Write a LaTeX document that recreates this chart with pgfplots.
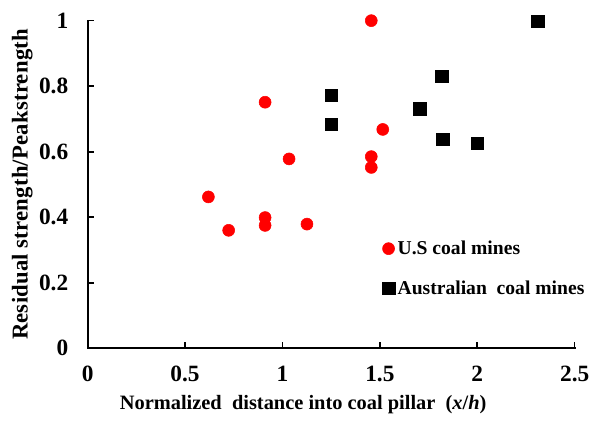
\documentclass[border=0pt]{standalone}
\usepackage{fontspec}
\setmainfont{Liberation Serif}
\usepackage{pgfplots}
\pgfplotsset{compat=1.18}
\begin{document}
\begin{tikzpicture}
\begin{axis}[
  at={(0,0)}, anchor=south west,
  scale only axis,
  width=365.3pt, height=245.7pt,
  xmin=0, xmax=2.5, ymin=0, ymax=1,
  axis lines=left,
  axis line style={line width=1.5pt},
  every outer x axis line/.append style={-},
  every outer y axis line/.append style={-},
  tick align=inside,
  major tick length=5pt,
  major tick style={line width=1.2pt},
  xtick={0,0.5,1,1.5,2,2.5},
  ytick={0,0.2,0.4,0.6,0.8,1},
  xticklabels={0,0.5,1,1.5,2,2.5},
  yticklabels={0,0.2,0.4,0.6,0.8,1},
  ticklabel style={font=\fontsize{17.5}{20}\selectfont\bfseries},
  yticklabel style={xshift=-11pt},
  xticklabel style={yshift=-10pt},
  xlabel={\fontsize{15.3}{18}\selectfont\bfseries Normalized\ \ distance into coal pillar\ \ (\textit{x}/\textit{h})},
  ylabel={\fontsize{17}{20}\selectfont\bfseries\addfontfeature{LetterSpace=1}Residual strength/Peakstrength},
  xlabel style={yshift=-3pt, xshift=-21pt},
  ylabel style={yshift=-2pt},
  legend style={at={(axis cs:1.49,0.345)}, anchor=north west, draw=none, fill=none,
    font=\fontsize{14.7}{17}\selectfont\bfseries, row sep=14pt},
  legend cell align=left,
  clip=false,
]
\addplot[only marks, mark=*, mark size=4.5pt, red, mark options={draw=red, fill=red}]
coordinates {
(1.456,1.0) (0.911,0.751) (1.034,0.578) (1.515,0.668) (1.456,0.585) (1.456,0.552)
(0.620,0.462) (0.724,0.360) (0.911,0.399) (0.911,0.375) (1.126,0.379)
};
\addlegendentry{U.S coal mines}
\addplot[only marks, mark=square*, mark size=4.8pt, black]
coordinates {
(2.309,0.998) (1.816,0.830) (1.251,0.772) (1.703,0.732) (1.251,0.684) (1.821,0.638) (2.0,0.626)
};
\addlegendentry{Australian\ \ coal mines}
\draw[black, line width=1.5pt, line cap=rect] (axis cs:0,1) -- (axis cs:0,0) -- (axis cs:2.5,0);
\pgfplotsinvokeforeach{0.5,1,1.5,2,2.5}{
  \draw[black, line width=1.2pt] (axis cs:#1,0) -- ([yshift=5pt]axis cs:#1,0);
}
\pgfplotsinvokeforeach{0.2,0.4,0.6,0.8,1}{
  \draw[black, line width=1.2pt] (axis cs:0,#1) -- ([xshift=5pt]axis cs:0,#1);
}
\end{axis}
\pgfresetboundingbox
\path (-65.7pt,-54.55pt) rectangle (378.3pt,261.2pt);
\end{tikzpicture}
\end{document}
